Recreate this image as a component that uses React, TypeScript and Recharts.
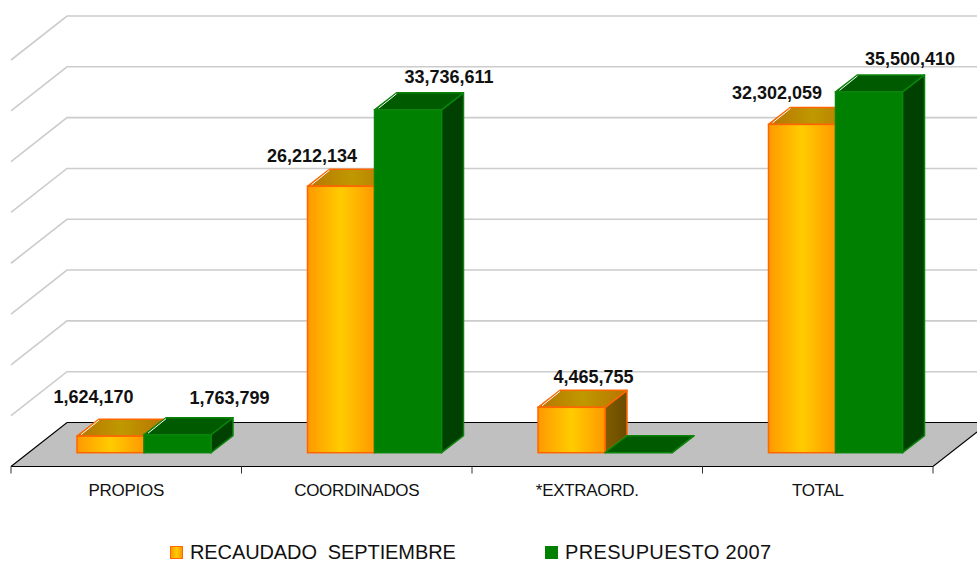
import React from "react";
import { ComposedChart, Bar, XAxis, YAxis, CartesianGrid, LabelList, Legend } from "recharts";

const categories = ["PROPIOS", "COORDINADOS", "*EXTRAORD.", "TOTAL"];
const recaudado = [1624170, 26212134, 4465755, 32302059];
const presupuesto = [1763799, 33736611, 0, 35500410];
const yTicks = [0, 5000000, 10000000, 15000000, 20000000, 25000000, 30000000, 35000000, 40000000];
const seriesNames = ["RECAUDADO  SEPTIEMBRE", "PRESUPUESTO 2007"];

const rows = categories.map((name, i) => ({ name, recaudado: recaudado[i], presupuesto: presupuesto[i] }));

const FONT = '"Liberation Sans", Arial, sans-serif';
const WALL = { dx: 56, dy: -44 };
const INSET = { dx: 18, dy: -13.8 };
const BAR = { dx: 22, dy: -17 };
const orangeNudge = [[1, -47], [-11, -38], [40, -38], [-7, -39]];
const greenNudge = [[70, -45], [59, -41], [0, 0], [59, -41]];

const pts = (a: number[][]) => a.map((p) => p.join(",")).join(" ");

function GridItem(props: any) {
  const { x1, x2, y1, index } = props;
  const isFloor = y1 > 440;
  const backEnd = x2 + WALL.dx;
  if (isFloor) {
    const step = (x2 - x1) / categories.length;
    const ticks = Array.from({ length: categories.length + 1 }, (_, i) => x1 + i * step);
    return (
      <g key={`floor-${index}`}>
        <polygon
          points={pts([[x1, y1], [x1 + WALL.dx, y1 + WALL.dy], [backEnd, y1 + WALL.dy], [x2, y1]])}
          fill="#C0C0C0"
          stroke="none"
        />
        <polyline
          points={pts([[x1, y1], [x1 + WALL.dx, y1 + WALL.dy], [backEnd, y1 + WALL.dy], [x2, y1], [x1, y1]])}
          fill="none"
          stroke="#000"
          strokeWidth={1.2}
        />
        {ticks.map((t) => (
          <line key={t} x1={t} x2={t} y1={y1} y2={y1 + 7} stroke="#333" strokeWidth={1} />
        ))}
      </g>
    );
  }
  return (
    <polyline
      key={`grid-${index}`}
      points={pts([[x1, y1], [x1 + WALL.dx, y1 + WALL.dy], [backEnd, y1 + WALL.dy]])}
      fill="none"
      stroke="#CCCCCC"
      strokeWidth={1.6}
    />
  );
}

function Box3D(props: any) {
  const { x, y, width, height, palette } = props;
  const l = x + INSET.dx;
  const r = l + width;
  const t = y + INSET.dy;
  const b = t + height;
  const { dx, dy } = BAR;
  return (
    <g>
      <polygon points={pts([[r, t], [r + dx, t + dy], [r + dx, b + dy], [r, b]])} fill={palette.side} stroke={palette.edge} strokeWidth={1.5} strokeLinejoin="round" />
      <polygon points={pts([[l, t], [l + dx, t + dy], [r + dx, t + dy], [r, t]])} fill={palette.top} stroke={palette.edge} strokeWidth={1.5} strokeLinejoin="round" />
      {height > 0 && (
        <rect x={l} y={t} width={width} height={height} fill={palette.front} stroke={palette.edge} strokeWidth={1.5} />
      )}
      {height > 0 && (
        <line x1={l + 4} y1={t - 1.5} x2={l + dx} y2={t + dy + 1} stroke="#FFFFFF" strokeWidth={1} />
      )}
    </g>
  );
}

const orangePalette = { front: "url(#orangeFront)", top: "url(#orangeTop)", side: "url(#orangeSide)", edge: "#FF6600" };
const greenPalette = { front: "#008000", top: "#005A00", side: "#004000", edge: "#0A850A" };

const labelFor = (nudges: number[][]) => (props: any) => {
  const { x, y, width, value, index } = props;
  if (!value) return null;
  return (
    <text
      x={x + width / 2 + nudges[index][0]}
      y={y + nudges[index][1]}
      textAnchor="middle"
      fontFamily={FONT}
      fontWeight="bold"
      fontSize={18}
      fill="#111"
    >
      {Number(value).toLocaleString("en-US")}
    </text>
  );
};

function LegendBox() {
  const items = [
    { name: seriesNames[0], left: 170, spacing: -0.1, bg: "linear-gradient(90deg,#FF9900,#FFCC00,#FF9900)", edge: "#FF6600" },
    { name: seriesNames[1], left: 545, spacing: 0.35, bg: "#008000", edge: "#038003" },
  ];
  return (
    <div style={{ position: "relative", width: 977, height: 24 }}>
      {items.map((it) => (
        <div key={it.name} style={{ position: "absolute", left: it.left, top: 0, height: 24, display: "flex", alignItems: "center" }}>
          <span style={{ width: 11, height: 11, background: it.bg, border: `1.5px solid ${it.edge}`, display: "inline-block", marginRight: 7 }} />
          <span style={{ fontFamily: FONT, fontSize: 20, letterSpacing: it.spacing, color: "#111", whiteSpace: "pre" }}>{it.name}</span>
        </div>
      ))}
    </div>
  );
}

export default function App() {
  return (
    <div style={{ position: "absolute", left: 0, top: 0, width: 977, height: 561, background: "#fff" }}>
      <ComposedChart
        width={977}
        height={561}
        data={rows}
        barSize={67}
        barGap={0}
        margin={{ top: 60, right: 44, bottom: 64.5, left: 11 }}
      >
        <defs>
          <linearGradient id="orangeFront" x1="0" x2="1" y1="0" y2="0">
            <stop offset="0" stopColor="#FF9900" />
            <stop offset="0.5" stopColor="#FFCC00" />
            <stop offset="1" stopColor="#FF9900" />
          </linearGradient>
          <linearGradient id="orangeTop" x1="0" x2="1" y1="0" y2="0">
            <stop offset="0" stopColor="#B87400" />
            <stop offset="0.5" stopColor="#BF9900" />
            <stop offset="1" stopColor="#B87400" />
          </linearGradient>
          <linearGradient id="orangeSide" x1="0" x2="1" y1="0" y2="0">
            <stop offset="0" stopColor="#805C00" />
            <stop offset="1" stopColor="#6A4C00" />
          </linearGradient>
        </defs>
        <CartesianGrid horizontal={GridItem as any} vertical={false} horizontalValues={yTicks} />
        <XAxis
          dataKey="name"
          axisLine={false}
          tickLine={false}
          height={30}
          interval={0}
          tickMargin={11}
          tick={{ fontFamily: FONT, fontSize: 17, letterSpacing: -0.3, fill: "#111" }}
        />
        <YAxis width={0} domain={[0, 40000000]} ticks={yTicks} interval={0} tick={() => <g />} axisLine={false} tickLine={false} />
        <Legend
          layout="horizontal"
          verticalAlign="middle"
          content={() => <LegendBox />}
          wrapperStyle={{ position: "absolute", left: 0, top: 540, width: 977, height: 24 }}
        />
        <Bar dataKey="recaudado" name={seriesNames[0]} isAnimationActive={false} shape={(p: any) => <Box3D {...p} palette={orangePalette} />}>
          <LabelList dataKey="recaudado" content={labelFor(orangeNudge) as any} />
        </Bar>
        <Bar dataKey="presupuesto" name={seriesNames[1]} isAnimationActive={false} shape={(p: any) => <Box3D {...p} palette={greenPalette} />}>
          <LabelList dataKey="presupuesto" content={labelFor(greenNudge) as any} />
        </Bar>
      </ComposedChart>
    </div>
  );
}
